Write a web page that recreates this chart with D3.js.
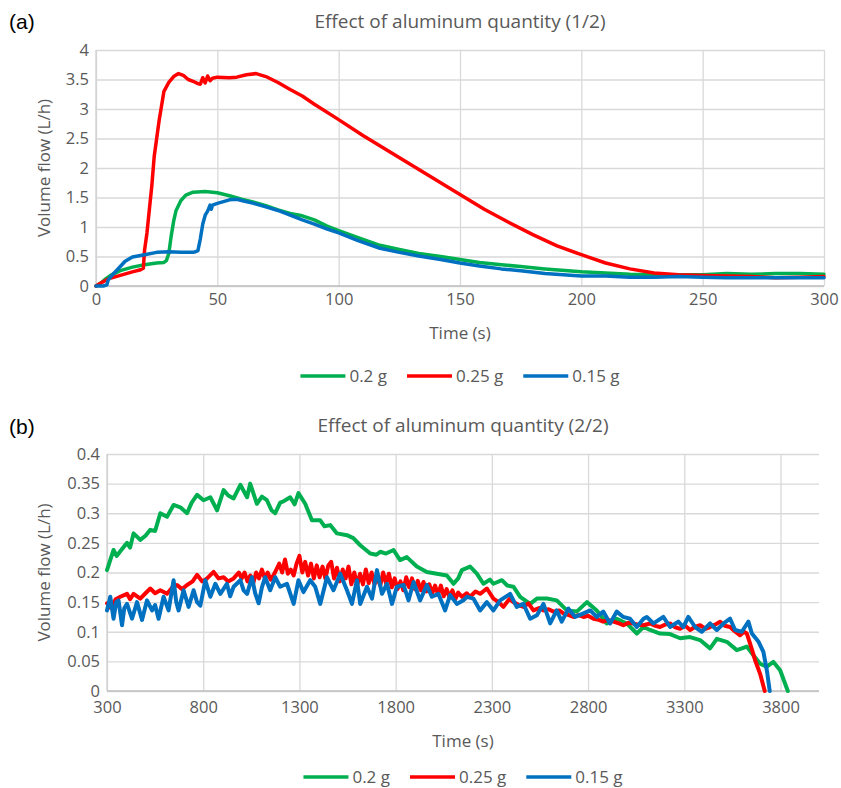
<!DOCTYPE html>
<html>
<head>
<meta charset="utf-8">
<script src="https://cdn.jsdelivr.net/npm/d3@7"></script>
<style>
  body { margin: 0; background: #fff; }
  text { font-family: "Open Sans", "Noto Sans", sans-serif; }
</style>
</head>
<body>
<svg id="chart"></svg>
<script>
// ---- data ----
const seriesNames = ["0.2 g", "0.25 g", "0.15 g"];
const seriesColors = ["#00B050", "#FF0000", "#0070C0"];

// panel (a): time (s), volume flow (L/h)
const greenA = [[0,0],[2,0.05],[4,0.12],[6,0.18],[10,0.26],[15,0.32],[20,0.36],[25,0.39],[28,0.4],[29,0.43],[30,0.55],[31,0.85],[32,1.1],[33,1.28],[35,1.45],[37,1.54],[40,1.59],[45,1.6],[50,1.58],[55,1.53],[60,1.47],[65,1.42],[70,1.36],[75,1.29],[80,1.23],[85,1.19],[90,1.12],[95,1.02],[100,0.94],[108,0.82],[117,0.69],[125,0.62],[133,0.55],[142,0.5],[150,0.45],[158,0.4],[167,0.36],[175,0.33],[185,0.29],[200,0.24],[210,0.22],[220,0.2],[230,0.19],[240,0.19],[250,0.19],[260,0.21],[270,0.2],[280,0.21],[290,0.21],[300,0.2]];
const redA = [[0,0],[2,0.05],[5,0.12],[10,0.18],[15,0.24],[18,0.27],[19.5,0.3],[20,0.6],[21,0.9],[22,1.3],[23,1.7],[24,2.2],[25,2.5],[26,2.8],[27,3.05],[28,3.3],[30,3.45],[32,3.55],[34,3.6],[36,3.57],[38,3.5],[40,3.47],[42,3.43],[43,3.42],[44,3.53],[45,3.44],[46,3.56],[47,3.48],[48,3.52],[50,3.54],[55,3.53],[58,3.54],[62,3.58],[66,3.6],[70,3.55],[75,3.45],[80,3.33],[85,3.22],[90,3.08],[100,2.82],[110,2.55],[120,2.3],[130,2.05],[140,1.8],[150,1.55],[160,1.3],[170,1.08],[180,0.87],[190,0.68],[200,0.53],[210,0.39],[220,0.29],[230,0.22],[240,0.19],[250,0.18],[260,0.17],[270,0.16],[280,0.14],[290,0.15],[300,0.16]];
const blueA = [[0,0],[3,0],[4.5,0.02],[5,0.1],[7,0.2],[10,0.33],[12,0.42],[15,0.49],[20,0.53],[25,0.57],[30,0.58],[35,0.57],[40,0.57],[41,0.58],[42,0.6],[43,0.8],[44,1.05],[45,1.2],[46,1.27],[47,1.37],[47.5,1.3],[48,1.37],[50,1.4],[55,1.46],[58,1.47],[60,1.45],[65,1.4],[70,1.34],[75,1.28],[80,1.2],[85,1.12],[90,1.05],[95,0.97],[100,0.9],[108,0.77],[117,0.64],[125,0.57],[133,0.51],[142,0.45],[150,0.39],[158,0.34],[167,0.29],[175,0.26],[185,0.21],[200,0.17],[210,0.17],[220,0.15],[230,0.15],[240,0.16],[250,0.15],[260,0.14],[270,0.14],[280,0.14],[290,0.14],[300,0.14]];

// panel (b)
const greenB = [[300,0.204],[334,0.238],[350,0.228],[369,0.236],[404,0.25],[420,0.242],[438,0.266],[473,0.255],[500,0.262],[525,0.272],[550,0.27],[577,0.30],[612,0.294],[646,0.314],[681,0.31],[716,0.30],[740,0.318],[768,0.331],[802,0.322],[837,0.327],[872,0.305],[906,0.339],[930,0.33],[958,0.325],[993,0.348],[1028,0.327],[1044,0.35],[1079,0.316],[1105,0.328],[1131,0.322],[1155,0.305],[1174,0.30],[1200,0.318],[1217,0.32],[1252,0.327],[1275,0.315],[1295,0.334],[1330,0.316],[1365,0.288],[1408,0.288],[1430,0.278],[1460,0.28],[1495,0.266],[1547,0.263],[1580,0.258],[1616,0.246],[1668,0.232],[1700,0.23],[1720,0.235],[1750,0.232],[1789,0.238],[1823,0.221],[1858,0.226],[1910,0.21],[1962,0.201],[2014,0.198],[2066,0.195],[2101,0.181],[2125,0.19],[2144,0.204],[2187,0.21],[2222,0.198],[2256,0.181],[2290,0.188],[2308,0.181],[2352,0.187],[2380,0.178],[2412,0.176],[2447,0.159],[2499,0.147],[2534,0.156],[2586,0.156],[2637,0.153],[2690,0.136],[2741,0.134],[2794,0.15],[2845,0.136],[2897,0.114],[2949,0.122],[3001,0.114],[3053,0.097],[3088,0.108],[3122,0.103],[3174,0.097],[3226,0.096],[3278,0.089],[3330,0.091],[3382,0.086],[3434,0.072],[3469,0.088],[3521,0.083],[3573,0.069],[3625,0.075],[3660,0.06],[3694,0.046],[3729,0.041],[3763,0.049],[3798,0.035],[3838,0]];
const redB = [[300,0.148],[320,0.14],[345,0.155],[369,0.159],[404,0.164],[420,0.155],[438,0.164],[473,0.156],[500,0.165],[525,0.173],[550,0.165],[577,0.17],[612,0.164],[640,0.175],[664,0.179],[690,0.172],[716,0.179],[745,0.185],[768,0.196],[795,0.185],[820,0.19],[854,0.201],[880,0.19],[906,0.192],[930,0.185],[958,0.19],[985,0.2],[1000,0.19],[1015,0.2],[1030,0.185],[1045,0.195],[1060,0.182],[1075,0.2],[1090,0.19],[1105,0.205],[1120,0.19],[1135,0.2],[1150,0.188],[1165,0.195],[1180,0.205],[1195,0.215],[1210,0.2],[1225,0.222],[1240,0.198],[1255,0.205],[1270,0.195],[1285,0.215],[1300,0.228],[1315,0.2],[1330,0.218],[1345,0.195],[1360,0.215],[1375,0.19],[1390,0.212],[1405,0.192],[1420,0.21],[1435,0.19],[1450,0.212],[1465,0.218],[1480,0.19],[1495,0.208],[1510,0.185],[1525,0.205],[1540,0.19],[1555,0.21],[1570,0.18],[1585,0.2],[1600,0.178],[1615,0.198],[1630,0.18],[1645,0.205],[1660,0.182],[1675,0.2],[1690,0.18],[1705,0.192],[1720,0.178],[1735,0.2],[1750,0.182],[1765,0.198],[1780,0.175],[1795,0.19],[1810,0.172],[1825,0.185],[1840,0.17],[1855,0.192],[1870,0.175],[1885,0.19],[1900,0.172],[1915,0.186],[1930,0.17],[1945,0.184],[1960,0.168],[1975,0.18],[1990,0.165],[2005,0.178],[2020,0.163],[2035,0.178],[2050,0.16],[2065,0.172],[2080,0.158],[2095,0.17],[2110,0.155],[2125,0.166],[2144,0.159],[2170,0.165],[2187,0.159],[2215,0.168],[2239,0.164],[2274,0.173],[2308,0.156],[2335,0.15],[2360,0.142],[2390,0.155],[2412,0.15],[2440,0.145],[2464,0.142],[2490,0.148],[2516,0.136],[2545,0.14],[2568,0.136],[2595,0.138],[2620,0.134],[2650,0.136],[2672,0.131],[2700,0.128],[2724,0.125],[2750,0.128],[2776,0.125],[2800,0.127],[2828,0.122],[2855,0.12],[2879,0.117],[2905,0.12],[2931,0.117],[2960,0.114],[2983,0.111],[3010,0.115],[3035,0.114],[3060,0.112],[3088,0.111],[3122,0.114],[3150,0.11],[3174,0.108],[3200,0.112],[3226,0.114],[3250,0.108],[3278,0.105],[3305,0.11],[3330,0.103],[3355,0.108],[3382,0.111],[3410,0.105],[3434,0.108],[3460,0.112],[3486,0.117],[3510,0.11],[3538,0.108],[3565,0.1],[3590,0.094],[3610,0.1],[3625,0.097],[3642,0.08],[3668,0.052],[3694,0.029],[3718,0]];
const blueB = [[300,0.136],[317,0.159],[334,0.122],[348,0.15],[360,0.153],[378,0.111],[390,0.14],[404,0.147],[430,0.122],[456,0.15],[482,0.12],[508,0.153],[534,0.136],[550,0.145],[568,0.122],[594,0.159],[620,0.136],[646,0.187],[660,0.15],[672,0.136],[698,0.17],[724,0.142],[750,0.17],[768,0.15],[785,0.144],[811,0.187],[837,0.159],[863,0.181],[889,0.164],[923,0.181],[940,0.16],[958,0.176],[993,0.187],[1010,0.17],[1028,0.164],[1053,0.192],[1070,0.165],[1088,0.148],[1105,0.175],[1122,0.192],[1148,0.17],[1174,0.192],[1200,0.176],[1235,0.181],[1270,0.147],[1295,0.187],[1321,0.167],[1356,0.187],[1382,0.176],[1408,0.147],[1443,0.192],[1477,0.17],[1512,0.198],[1547,0.17],[1573,0.147],[1599,0.187],[1616,0.147],[1651,0.176],[1677,0.156],[1703,0.204],[1729,0.164],[1755,0.181],[1781,0.147],[1806,0.176],[1841,0.179],[1867,0.153],[1893,0.184],[1927,0.153],[1962,0.179],[1988,0.159],[2022,0.164],[2057,0.136],[2083,0.162],[2118,0.147],[2152,0.153],[2170,0.159],[2204,0.156],[2239,0.136],[2274,0.15],[2308,0.136],[2343,0.153],[2395,0.164],[2429,0.142],[2464,0.147],[2499,0.122],[2534,0.128],[2568,0.147],[2603,0.114],[2637,0.136],[2663,0.117],[2698,0.139],[2733,0.125],[2776,0.131],[2811,0.136],[2845,0.125],[2879,0.134],[2914,0.114],[2949,0.134],[2983,0.125],[3018,0.122],[3053,0.108],[3088,0.122],[3105,0.125],[3140,0.114],[3191,0.125],[3226,0.108],[3269,0.117],[3295,0.108],[3321,0.125],[3356,0.108],[3391,0.1],[3434,0.114],[3469,0.103],[3504,0.114],[3538,0.122],[3564,0.103],[3599,0.1],[3633,0.117],[3651,0.097],[3686,0.083],[3711,0.066],[3729,0.035],[3744,0]];

const xTicksA = [0, 50, 100, 150, 200, 250, 300];
const yTicksA = [0, 0.5, 1, 1.5, 2, 2.5, 3, 3.5, 4];
const xTicksB = [300, 800, 1300, 1800, 2300, 2800, 3300, 3800];
const yTicksB = [0, 0.05, 0.1, 0.15, 0.2, 0.25, 0.3, 0.35, 0.4];

const width = 841;
const height = 788;

const svg = d3.select("#chart")
    .attr("width", width)
    .attr("height", height);

svg.append("rect").attr("width", width).attr("height", height).attr("fill", "#fff");

function drawPanel(p) {
    const x = d3.scaleLinear().domain(p.xDomain).range([p.left, p.right]);
    const y = d3.scaleLinear().domain(p.yDomain).range([p.bottom, p.top]);
    const g = svg.append("g");

    // gridlines
    g.append("g")
        .attr("transform", `translate(${p.left},0)`)
        .call(d3.axisLeft(y).tickValues(p.yTicks).tickSize(-(p.right - p.left)).tickFormat(""))
        .call(s => s.select(".domain").remove())
        .call(s => s.selectAll("line").attr("stroke", "#d9d9d9").attr("stroke-width", 1.3));
    g.append("g")
        .attr("transform", `translate(0,${p.bottom})`)
        .call(d3.axisBottom(x).tickValues(p.xTicks).tickSize(-(p.bottom - p.top)).tickFormat(""))
        .call(s => s.select(".domain").remove())
        .call(s => s.selectAll("line").attr("stroke", "#d9d9d9").attr("stroke-width", 1.3));

    // axis lines
    g.append("line").attr("x1", p.left).attr("x2", p.left).attr("y1", p.top).attr("y2", p.bottom)
        .attr("stroke", "#d0d0d0").attr("stroke-width", 1.3);
    g.append("line").attr("x1", p.left).attr("x2", p.right).attr("y1", p.bottom).attr("y2", p.bottom)
        .attr("stroke", "#bfbfbf").attr("stroke-width", 1.3);

    // tick labels
    const yAxis = g.append("g")
        .attr("transform", `translate(${p.left},0)`)
        .call(d3.axisLeft(y).tickValues(p.yTicks).tickSize(0).tickPadding(7).tickFormat(d => String(d)));
    const xAxis = g.append("g")
        .attr("transform", `translate(0,${p.bottom})`)
        .call(d3.axisBottom(x).tickValues(p.xTicks).tickSize(0).tickPadding(p.xPad).tickFormat(d => String(d)));
    [yAxis, xAxis].forEach(a => {
        a.select(".domain").remove();
        a.selectAll("text").attr("fill", "#595959").style("font-size", "16.5px")
            .style("font-family", '"Open Sans", sans-serif');
    });

    // lines
    const line = d3.line().x(d => x(d[0])).y(d => y(d[1]));
    p.series.forEach((data, i) => {
        g.append("path")
            .datum(data)
            .attr("fill", "none")
            .attr("stroke", seriesColors[i])
            .attr("stroke-width", p.lineWidth)
            .attr("stroke-linejoin", "round")
            .attr("stroke-linecap", "round")
            .attr("d", line);
    });

    const cx = (p.left + p.right) / 2;

    // titles
    g.append("text")
        .attr("x", cx).attr("y", p.titleY)
        .attr("text-anchor", "middle")
        .attr("fill", "#595959")
        .style("font-size", "19px")
        .text(p.title);
    g.append("text")
        .attr("x", 9).attr("y", p.labelY)
        .attr("fill", "#000")
        .style("font-family", '"Liberation Sans", Arial, sans-serif')
        .style("font-size", "21px")
        .text(p.label);
    g.append("text")
        .attr("x", cx).attr("y", p.xTitleY)
        .attr("text-anchor", "middle")
        .attr("fill", "#595959")
        .style("font-size", "17px")
        .text("Time (s)");
    g.append("text")
        .attr("transform", `translate(50,${(p.top + p.bottom) / 2}) rotate(-90)`)
        .attr("text-anchor", "middle")
        .attr("fill", "#595959")
        .style("font-size", "17px")
        .text("Volume flow (L/h)");

    // legend
    const legend = g.append("g");
    let lx = 0;
    seriesNames.forEach((name, i) => {
        const item = legend.append("g").attr("transform", `translate(${lx},0)`);
        item.append("line").attr("x1", 0).attr("x2", 45).attr("y1", 0).attr("y2", 0)
            .attr("stroke", seriesColors[i]).attr("stroke-width", 3.5);
        const t = item.append("text").attr("x", 49).attr("y", 6)
            .attr("fill", "#595959").style("font-size", "17px").text(name);
        lx += 49 + t.node().getComputedTextLength() + 20;
    });
    const legendW = lx - 20;
    legend.attr("transform", `translate(${cx - legendW / 2},${p.legendY})`);
}

drawPanel({
    left: 96, right: 824, top: 50, bottom: 286,
    xDomain: [0, 300], yDomain: [0, 4],
    xTicks: xTicksA, yTicks: yTicksA,
    series: [greenA, redA, blueA],
    lineWidth: 3.5,
    xPad: 7,
    title: "Effect of aluminum quantity (1/2)", titleY: 28,
    label: "(a)", labelY: 29,
    xTitleY: 339, legendY: 376
});

drawPanel({
    left: 107, right: 819, top: 454, bottom: 691,
    xDomain: [300, 4000], yDomain: [0, 0.4],
    xTicks: xTicksB, yTicks: yTicksB,
    series: [greenB, redB, blueB],
    lineWidth: 4,
    xPad: 10,
    title: "Effect of aluminum quantity (2/2)", titleY: 432,
    label: "(b)", labelY: 434,
    xTitleY: 747, legendY: 777
});
</script>
</body>
</html>
